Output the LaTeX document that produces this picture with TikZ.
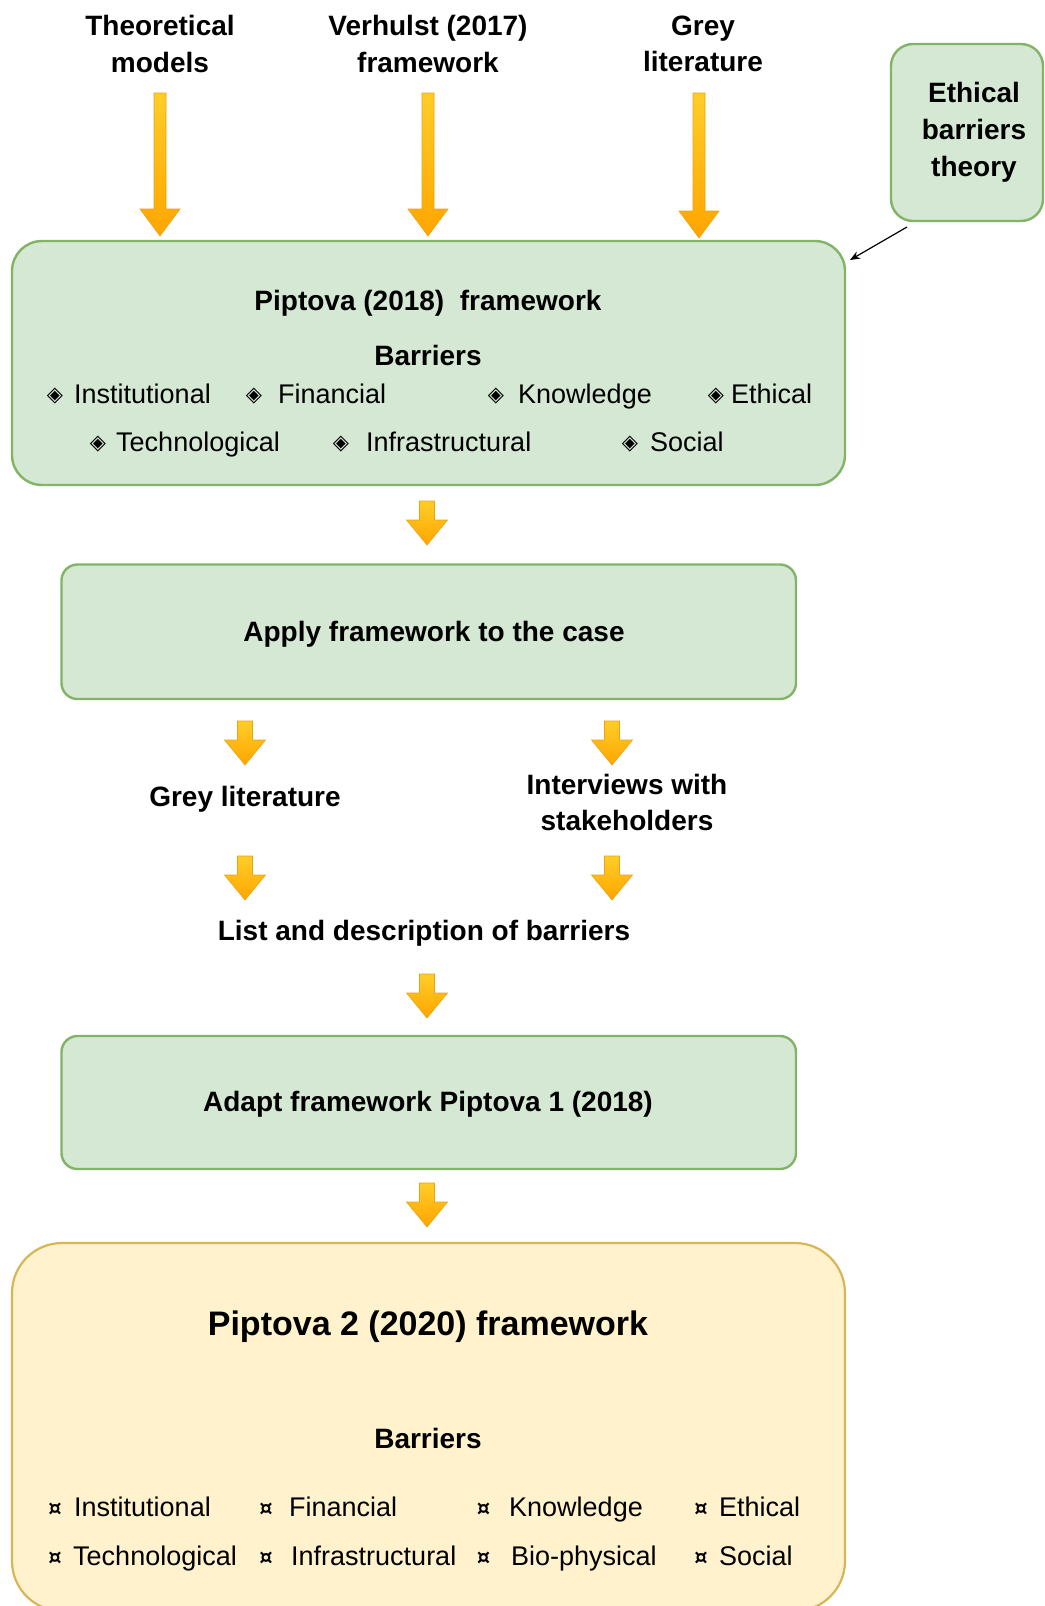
\documentclass[tikz,border=0pt]{standalone}
\usepackage{fontspec}
\setmainfont{Liberation Sans}
\newfontfamily\symfont{DejaVu Sans}
\usetikzlibrary{arrows.meta}
\definecolor{gfill}{HTML}{D5E8D4}
\definecolor{gline}{HTML}{82B366}
\definecolor{yfill}{HTML}{FFF2CC}
\definecolor{yline}{HTML}{D6B656}
\definecolor{atop}{HTML}{FFCD28}
\definecolor{abot}{HTML}{FFA500}
\definecolor{aline}{HTML}{E8A317}
\tikzset{
  greenbox/.style={draw=gline, fill=gfill, line width=2.4pt, inner sep=0pt},
  yellowbox/.style={draw=yline, fill=yfill, line width=2.2pt, inner sep=0pt},
  lbl/.style={inner sep=0pt, align=center, font=\fontsize{28}{36.5}\selectfont\bfseries},
  lbl1/.style={lbl, anchor=base},
  item/.style={inner sep=0pt, anchor=base west, font=\fontsize{27}{32}\selectfont},
  bul/.style={inner sep=0pt, anchor=base, font=\symfont\bfseries\fontsize{21}{24}\selectfont},
  arrowfill/.style={top color=atop, bottom color=abot, draw=aline, line width=0.6pt},
}
\newcommand\barrow[6]{% x, ytop, ybot, half shaft, half head, head length
  \path[arrowfill] ({#1-#4},#2) -- ({#1+#4},#2) -- ({#1+#4},{#3-#6}) -- ({#1+#5},{#3-#6})
    -- (#1,#3) -- ({#1-#5},{#3-#6}) -- ({#1-#4},{#3-#6}) -- cycle;}
\begin{document}
\begin{tikzpicture}[x=1pt,y=-1pt]
\useasboundingbox (0,0) rectangle (1044,1606);
\clip (0,0) rectangle (1044,1606);

% top source labels
\node[lbl] (theo) at (160,44) {Theoretical\\models};
\node[lbl] (verh) at (428,44) {Verhulst (2017)\\framework};
\node[lbl] (grey1) at (703,44) {Grey\\literature};

% ethical barriers theory box
\node[greenbox, rounded corners=22pt, minimum width=152pt, minimum height=177pt] (eth) at (967,132.5) {};
\node[lbl, font=\fontsize{28}{37}\selectfont\bfseries] (ethtxt) at (974,132) {Ethical\\barriers\\theory};

% long arrows
\barrow{160}{93}{236}{6}{20}{27}
\barrow{428}{93}{236}{6}{20}{27}
\barrow{699}{93}{238}{6}{20}{27}

% Piptova 2018 box
\node[greenbox, rounded corners=30pt, minimum width=833pt, minimum height=244pt] (pip) at (428.5,363) {};
\node[lbl1] (piptitle) at (428,310) {Piptova (2018) \ framework};
\node[lbl1] (bar1) at (428,365.5) {Barriers};

\coordinate (ethtail) at (907,227);
\coordinate (piphead) at (850,260);
\draw[line width=1.2pt, -{Stealth[length=10pt,width=8pt]}] (ethtail) -- (piphead);

% row 1 (baselines)
\node[bul] (b11) at (55,401) {◈};   \node[item] (i11) at (74,403) {Institutional};
\node[bul] (b12) at (254,401) {◈};  \node[item] (i12) at (278,403) {Financial};
\node[bul] (b13) at (496,401) {◈};  \node[item] (i13) at (518,403) {Knowledge};
\node[bul] (b14) at (716,401) {◈};  \node[item] (i14) at (731,403) {Ethical};
% row 2
\node[bul] (b21) at (98,449.5) {◈};  \node[item] (i21) at (116,451.5) {Technological};
\node[bul] (b22) at (341,449.5) {◈}; \node[item] (i22) at (366,451.5) {Infrastructural};
\node[bul] (b23) at (630,449.5) {◈}; \node[item] (i23) at (650,451.5) {Social};

% arrow to apply
\barrow{427}{501}{545}{7.5}{20.5}{25}

\node[greenbox, rounded corners=16pt, minimum width=734.5pt, minimum height=134.5pt] (apply) at (428.75,631.75) {};
\node[lbl1] (applytxt) at (434,641) {Apply framework to the case};

\barrow{245}{721}{765}{7.5}{20.5}{25}
\barrow{612}{721}{765}{7.5}{20.5}{25}

\node[lbl1] (grey2) at (245,806) {Grey literature};
\node[lbl] (interv) at (627,802.5) {Interviews with\\stakeholders};

\barrow{245}{856}{900}{7.5}{20.5}{25}
\barrow{612}{856}{900}{7.5}{20.5}{25}

\node[lbl1] (list) at (424,940) {List and description of barriers};

\barrow{427}{974}{1018}{7.5}{20.5}{25}

\node[greenbox, rounded corners=16pt, minimum width=734.5pt, minimum height=133pt] (adapt) at (428.75,1102.5) {};
\node[lbl1] (adapttxt) at (428,1111) {Adapt framework Piptova 1 (2018)};

\barrow{427}{1183}{1227}{7.5}{20.5}{25}

% Piptova 2 box
\node[yellowbox, rounded corners=50pt, minimum width=833pt, minimum height=368pt] (pip2) at (428.5,1427) {};
\node[lbl1, font=\fontsize{34}{40}\selectfont\bfseries] (pip2title) at (428,1335) {Piptova 2 (2020) framework};
\node[lbl1] (bar2) at (428,1448) {Barriers};

\node[bul] (c11) at (55,1515) {¤};   \node[item] (j11) at (74,1516) {Institutional};
\node[bul] (c12) at (266,1515) {¤};  \node[item] (j12) at (289,1516) {Financial};
\node[bul] (c13) at (483.5,1515) {¤};\node[item] (j13) at (509,1516) {Knowledge};
\node[bul] (c14) at (701,1515) {¤};  \node[item] (j14) at (719,1516) {Ethical};

\node[bul] (c21) at (55,1564) {¤};   \node[item] (j21) at (73,1565) {Technological};
\node[bul] (c22) at (266,1564) {¤};  \node[item] (j22) at (291,1565) {Infrastructural};
\node[bul] (c23) at (483.5,1564) {¤};\node[item] (j23) at (511,1565) {Bio-physical};
\node[bul] (c24) at (701,1564) {¤};  \node[item] (j24) at (719,1565) {Social};
\end{tikzpicture}
\end{document}
